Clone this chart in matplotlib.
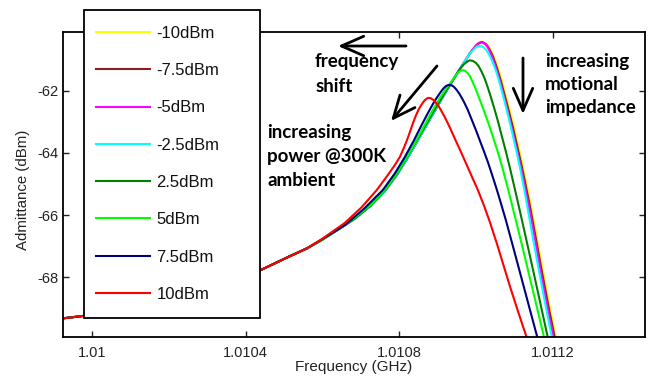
import matplotlib
matplotlib.use("Agg")
import matplotlib.pyplot as plt
from matplotlib.patches import Rectangle

# ---------------- data ----------------
labels = ["-10dBm", "-7.5dBm", "-5dBm", "-2.5dBm", "2.5dBm", "5dBm", "7.5dBm", "10dBm"]
colors = ["#FFFF00", "#8E1C1C", "#FF00FF", "#00FFFF", "#008000", "#00FF00", "#000080", "#FF0000"]

# low-frequency part where all curves coincide
shared_freq = [1.0099028, 1.0099236, 1.0099784, 1.0100722, 1.0101765, 1.0102807,
               1.0103589, 1.0104371, 1.0105101, 1.0105596]
shared_adm = [-69.34, -69.32, -69.24, -69.07, -68.79, -68.44,
              -68.14, -67.78, -67.35, -67.07]

freq_m10 = [1.0105987, 1.0106456, 1.0106847, 1.0107238, 1.0107629, 1.0107942, 1.0108228,
            1.0108463, 1.0108698, 1.0108906, 1.0109141, 1.0109375, 1.0109584, 1.0109740,
            1.0109844, 1.0109923, 1.0110001, 1.0110053, 1.0110105, 1.0110157, 1.0110209,
            1.0110262, 1.0110314, 1.0110366, 1.0110444, 1.0110522, 1.0110601, 1.0110678,
            1.0110757, 1.0110861, 1.0110965, 1.0111069, 1.0111174, 1.0111278, 1.0111408,
            1.0111565, 1.0111721, 1.0111903, 1.0112086, 1.0112164]
adm_m10 = [-66.80, -66.43, -66.11, -65.72, -65.23, -64.71, -64.15, -63.65, -63.15, -62.70,
           -62.20, -61.72, -61.30, -61.00, -60.80, -60.67, -60.55, -60.49, -60.44, -60.42,
           -60.44, -60.48, -60.54, -60.63, -60.82, -61.06, -61.35, -61.67, -62.03, -62.51,
           -63.02, -63.57, -64.13, -64.73, -65.51, -66.54, -67.60, -68.79, -69.92, -70.43]

freq_m75 = list(freq_m10)
adm_m75 = [-66.80, -66.43, -66.11, -65.72, -65.23, -64.71, -64.15, -63.65, -63.15, -62.70,
           -62.20, -61.72, -61.30, -61.00, -60.80, -60.67, -60.55, -60.49, -60.45, -60.43,
           -60.46, -60.50, -60.58, -60.69, -60.89, -61.16, -61.47, -61.80, -62.17, -62.66,
           -63.17, -63.73, -64.30, -64.91, -65.70, -66.75, -67.81, -68.99, -70.11, -70.64]

freq_m5 = list(freq_m10)
adm_m5 = [-66.80, -66.43, -66.11, -65.72, -65.23, -64.71, -64.15, -63.65, -63.15, -62.70,
          -62.20, -61.72, -61.30, -61.00, -60.80, -60.67, -60.56, -60.50, -60.46, -60.45,
          -60.47, -60.52, -60.61, -60.74, -60.96, -61.25, -61.57, -61.92, -62.30, -62.79,
          -63.32, -63.89, -64.45, -65.07, -65.87, -66.93, -68.01, -69.18, -70.29, -70.82]

freq_m25 = [1.0105987, 1.0106456, 1.0106847, 1.0107238, 1.0107629, 1.0107942, 1.0108228,
            1.0108463, 1.0108698, 1.0108906, 1.0109141, 1.0109375, 1.0109584, 1.0109740,
            1.0109844, 1.0109923, 1.0110001, 1.0110053, 1.0110105, 1.0110157, 1.0110209,
            1.0110262, 1.0110314, 1.0110366, 1.0110444, 1.0110522, 1.0110601, 1.0110678,
            1.0110757, 1.0110861, 1.0110965, 1.0111069, 1.0111174, 1.0111304, 1.0111460,
            1.0111617, 1.0111799, 1.0111982, 1.0112060]
adm_m25 = [-66.80, -66.43, -66.11, -65.72, -65.23, -64.71, -64.15, -63.65, -63.15, -62.70,
           -62.20, -61.72, -61.30, -61.00, -60.81, -60.70, -60.60, -60.57, -60.56, -60.57,
           -60.61, -60.68, -60.77, -60.88, -61.09, -61.35, -61.66, -62.01, -62.38, -62.89,
           -63.44, -64.00, -64.61, -65.45, -66.54, -67.60, -68.79, -69.92, -70.43]

freq_p25 = [1.0105987, 1.0106456, 1.0106847, 1.0107238, 1.0107629, 1.0107942, 1.0108228,
            1.0108463, 1.0108698, 1.0108906, 1.0109141, 1.0109375, 1.0109532, 1.0109636,
            1.0109714, 1.0109792, 1.0109844, 1.0109923, 1.0110001, 1.0110079, 1.0110157,
            1.0110235, 1.0110314, 1.0110392, 1.0110470, 1.0110575, 1.0110678, 1.0110783,
            1.0110887, 1.0110991, 1.0111096, 1.0111226, 1.0111356, 1.0111486, 1.0111669,
            1.0111851, 1.0111955]
adm_p25 = [-66.80, -66.43, -66.11, -65.71, -65.21, -64.68, -64.10, -63.60, -63.10, -62.65,
           -62.17, -61.70, -61.40, -61.22, -61.12, -61.05, -61.02, -61.04, -61.10, -61.22,
           -61.40, -61.62, -61.90, -62.20, -62.52, -62.97, -63.46, -63.95, -64.47, -65.02,
           -65.58, -66.29, -67.01, -67.73, -68.76, -69.79, -70.37]

freq_p5 = [1.0105987, 1.0106456, 1.0106847, 1.0107238, 1.0107629, 1.0107942, 1.0108228,
           1.0108463, 1.0108671, 1.0108854, 1.0109062, 1.0109245, 1.0109375, 1.0109453,
           1.0109532, 1.0109584, 1.0109636, 1.0109688, 1.0109740, 1.0109792, 1.0109844,
           1.0109897, 1.0109975, 1.0110053, 1.0110157, 1.0110262, 1.0110366, 1.0110470,
           1.0110575, 1.0110678, 1.0110783, 1.0110887, 1.0111043, 1.0111200, 1.0111356,
           1.0111538, 1.0111773, 1.0111877]
adm_p5 = [-66.80, -66.40, -66.08, -65.69, -65.19, -64.65, -64.08, -63.57, -63.09, -62.67,
          -62.23, -61.90, -61.69, -61.54, -61.43, -61.37, -61.34, -61.34, -61.38, -61.44,
          -61.53, -61.66, -61.88, -62.12, -62.46, -62.81, -63.18, -63.57, -63.97, -64.41,
          -64.89, -65.39, -66.16, -66.95, -67.75, -68.68, -69.90, -70.43]

freq_p75 = [1.0105987, 1.0106586, 1.0107108, 1.0107577, 1.0107889, 1.0108150, 1.0108385,
            1.0108593, 1.0108750, 1.0108880, 1.0108984, 1.0109089, 1.0109167, 1.0109219,
            1.0109271, 1.0109323, 1.0109375, 1.0109427, 1.0109506, 1.0109584, 1.0109688,
            1.0109792, 1.0109897, 1.0110001, 1.0110105, 1.0110209, 1.0110314, 1.0110418,
            1.0110522, 1.0110626, 1.0110783, 1.0110939, 1.0111096, 1.0111252, 1.0111434,
            1.0111591, 1.0111721]
adm_p75 = [-66.78, -66.32, -65.77, -65.19, -64.66, -64.13, -63.60, -63.09, -62.72, -62.43,
           -62.22, -62.03, -61.91, -61.85, -61.82, -61.81, -61.83, -61.87, -61.98, -62.12,
           -62.35, -62.62, -62.94, -63.26, -63.60, -63.94, -64.29, -64.68, -65.08, -65.50,
           -66.16, -66.87, -67.59, -68.31, -69.15, -69.87, -70.47]

freq_p10 = [1.0105987, 1.0106586, 1.0107029, 1.0107420, 1.0107707, 1.0107889, 1.0108020,
            1.0108124, 1.0108202, 1.0108281, 1.0108359, 1.0108437, 1.0108515, 1.0108593,
            1.0108671, 1.0108750, 1.0108828, 1.0108906, 1.0108984, 1.0109062, 1.0109193,
            1.0109323, 1.0109453, 1.0109584, 1.0109740, 1.0109897, 1.0110053, 1.0110209,
            1.0110366, 1.0110548, 1.0110704, 1.0110887, 1.0111096, 1.0111330, 1.0111486]
adm_p10 = [-66.77, -66.25, -65.74, -65.19, -64.71, -64.39, -64.13, -63.84, -63.60, -63.33,
           -63.05, -62.80, -62.59, -62.43, -62.30, -62.23, -62.24, -62.31, -62.41, -62.56,
           -62.85, -63.18, -63.54, -63.89, -64.32, -64.76, -65.19, -65.68, -66.22, -66.91,
           -67.54, -68.28, -69.08, -69.95, -70.53]

series_freq = [freq_m10, freq_m75, freq_m5, freq_m25, freq_p25, freq_p5, freq_p75, freq_p10]
series_adm = [adm_m10, adm_m75, adm_m5, adm_m25, adm_p25, adm_p5, adm_p75, adm_p10]

xticks = [1.01, 1.0104, 1.0108, 1.0112]
xticklabels = ["1.01", "1.0104", "1.0108", "1.0112"]
yticks = [-68, -66, -64, -62]
yticklabels = ["-68", "-66", "-64", "-62"]

# ---------------- figure ----------------
W, H = 652, 379
plt.rcParams['font.family'] = ['Liberation Sans', 'DejaVu Sans']
fig = plt.figure(figsize=(W / 100, H / 100), dpi=100)


def fx(px):
    return px / W


def fy(py):
    return 1 - py / H


ax = fig.add_axes([fx(63), fy(336.7), fx(645) - fx(63), fy(31.7) - fy(336.7)])

handles = []
for fr, ad, lab, col in zip(series_freq, series_adm, labels, colors):
    (ln,) = ax.plot(shared_freq + fr, shared_adm + ad, color=col, lw=1.5, label=lab,
                    solid_joinstyle='round')
    handles.append(ln)

ax.set_xlim(1.009924, 1.011441)
ax.set_ylim(-69.91, -60.10)
ax.set_xticks(xticks)
ax.set_xticklabels(xticklabels)
ax.set_yticks(yticks)
ax.set_yticklabels(yticklabels)
ax.tick_params(direction='in', top=True, right=True, length=4, width=1.0,
               labelsize=10.5, colors='#222222', labelcolor='#222222')
ax.tick_params(axis='x', pad=7)
for sp in ax.spines.values():
    sp.set_linewidth(1.3)
    sp.set_color('black')

fig.text(fx(23), fy(190), "Admittance (dBm)", rotation=90, ha='center', va='center',
         fontsize=10.8, color='#222222')
fig.text(fx(354), fy(367), "Frequency (GHz)", ha='center', va='center',
         fontsize=11, color='#222222')

# legend with a box that reaches above the axes
rect = Rectangle((fx(84), fy(318)), fx(260) - fx(84), fy(10) - fy(318),
                 transform=fig.transFigure, facecolor='white', edgecolor='black',
                 lw=1.3, zorder=4.9, clip_on=False)
ax.add_patch(rect)
leg = ax.legend(handles=handles, loc='upper left', frameon=False,
                bbox_to_anchor=(fx(95.7), fy(26)), bbox_transform=fig.transFigure,
                borderpad=0, borderaxespad=0, fontsize=12, handlelength=3.25,
                handletextpad=0.4, labelspacing=1.335)
leg.set_zorder(5)
for t in leg.get_texts():
    t.set_color('#111111')

# annotations
afont = dict(family=['Lato', 'DejaVu Sans'], fontweight='bold', fontsize=13.5, color='black')
for txt, x, y in [("frequency", 315, 67), ("shift", 316, 92),
                  ("increasing", 267, 138), ("power @300K", 267, 162), ("ambient", 267, 186),
                  ("increasing", 545, 67), ("motional", 545, 90), ("impedance", 545, 113)]:
    fig.text(fx(x), fy(y), txt, ha='left', va='baseline', **afont)

arrows = [((406, 46), (338, 46)), ((437, 66), (391, 121)), ((523, 58), (523, 114))]
for (x0, y0), (x1, y1) in arrows:
    ax.annotate("", xy=(fx(x1), fy(y1)), xycoords='figure fraction',
                xytext=(fx(x0), fy(y0)), textcoords='figure fraction',
                arrowprops=dict(arrowstyle='->,head_length=0.8,head_width=0.35',
                                lw=2.0, color='black', mutation_scale=20,
                                shrinkA=0, shrinkB=0))

fig.savefig("out.png", dpi=100)
